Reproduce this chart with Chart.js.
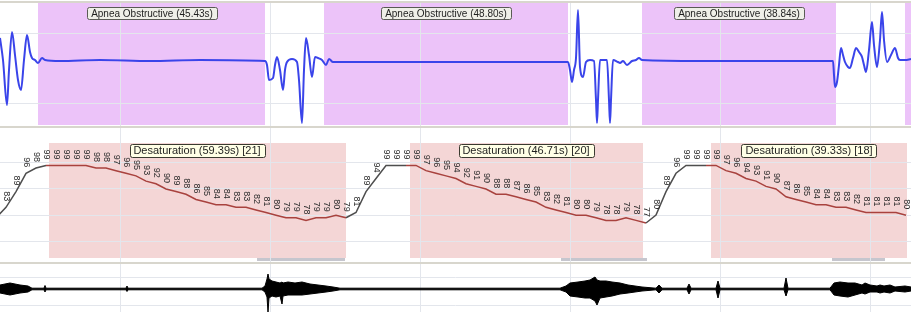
<!DOCTYPE html>
<html>
<head>
<meta charset="utf-8">
<script src="https://cdn.jsdelivr.net/npm/chart.js@4.4.1/dist/chart.umd.min.js"></script>
<style>
  html, body { margin: 0; padding: 0; background: #fff; }
  #wrap { position: relative; width: 911px; height: 312px; overflow: hidden; background: #fff; }
  #wrap canvas { position: absolute; left: 0; }
  .sep { position: absolute; left: 0; width: 911px; height: 2px; background: #d8d6cd; }
</style>
</head>
<body>
<div id="wrap">
  <div class="sep" style="top:1px"></div>
  <canvas id="flowChart" width="911" height="123" style="top:3px"></canvas>
  <div class="sep" style="top:126px"></div>
  <canvas id="spo2Chart" width="911" height="134" style="top:128px"></canvas>
  <div class="sep" style="top:262px"></div>
  <canvas id="snoreChart" width="911" height="48" style="top:264px"></canvas>
</div>
<script>
// time axis in seconds, vertical grid every 30 s
const gridTimes = [24, 54, 84, 114, 144, 174];
const timeMax = 182.2;

// airflow channel
const flowT = [0, 0.6, 1.4, 1.8, 2.4, 3, 3.6, 4.2, 4.8, 5.4, 6, 6.4, 7, 7.6, 8.4, 9, 12, 20, 30, 40, 53,
  53.4, 53.8, 54.6, 55, 55.4, 56, 56.6, 57, 57.4, 58.4, 59.4, 59.8, 60.4, 60.8, 61.2, 61.8, 62.4, 63, 63.6,
  64.4, 65.2, 65.8, 66.6, 80, 100, 113.6,
  114, 114.4, 114.8, 115.2, 115.6, 116, 116.6, 117.2, 118, 118.8, 119.2, 119.4, 119.6, 120, 121.4, 121.8,
  122, 122.2, 122.6, 123.6, 124, 124.6, 125.4, 126.4, 127.2, 127.8, 128.4, 140, 156, 166.6,
  166.8, 167, 167.4, 167.8, 168.2, 168.6, 169, 169.6, 170, 170.6, 171.2, 171.8, 172.4, 172.8, 173.2, 173.8,
  174.4, 174.8, 175.4, 176, 176.4, 176.8, 177.4, 178.2, 179, 179.6, 180, 181, 182.2];
const flowV = [23, 1, -44, -9, 29, 6, -19, -29, 1, 26, 9, 3, 1, -2, 3, 1, 0, 1, 0, 1, 0,
  -4, -19, -17, -4, 4, -9, -29, -9, -1, 2, -1, -19, -62, -9, 23, 6, -16, 4, 3,
  1, -4, 2, -1, -1, -1, -1,
  -9, -21, -9, 3, 51, -6, -16, -1, 1, 0, -39, -62, -39, 1, 1, -39,
  -62, -39, 1, -1, -2, 0, -4, 0, 1, 3, 1, 0, 0, 0,
  -14, -26, -21, -4, 13, 6, -1, -6, -7, 3, 13, 9, 4, -4, -11, 11,
  39, 16, -6, 21, 49, 21, -1, 6, 13, 3, 1, 1, 2];

// SpO2 channel, one reading every 2 s
const spo2Start = -0.8;
const spo2Step = 2;
const spo2Vals = [79, 83, 89, 96, 98, 99, 99, 99, 99, 99, 98,
  98, 97, 96, 95, 93, 92, 90, 89, 88, 86,
  85, 84, 84, 83, 83, 82, 81, 80, 79, 79,
  78, 79, 79, 80, 79, 81, 89, 94, 99, 99,
  99, 99, 97, 96, 95, 94, 92, 91, 90, 88,
  88, 87, 86, 85, 83, 82, 81, 80, 80, 79,
  78, 78, 79, 78, 77, 80, 89, 96, 99, 99,
  99, 99, 97, 96, 94, 93, 91, 90, 87, 86,
  85, 84, 84, 83, 83, 82, 81, 81, 81, 81,
  80];

// scored events
const apneaStart = [7.6, 64.8, 128.4, 181];
const apneaDur = [45.43, 48.80, 38.84, null];
const desatStart = [9.8, 81.9, 142.1];
const desatDur = [59.39, 46.71, 39.33];
const desatDrop = [21, 20, 18];
const markStart = [51.4, 112.2, 166.4];
const markEnd = [69, 129.4, 177];

// snore channel envelope (upper / lower amplitude)
const snoreT = [0, 1, 2, 3, 4, 5.6, 6.4, 8.8, 9, 9.2, 20, 25.2, 25.4, 25.6, 40, 52.4, 53, 53.4, 53.6, 53.8,
  54.4, 55.2, 56, 56.4, 56.6, 57.6, 59, 60.4, 62, 63.6, 65.2, 66.6, 68, 90, 112, 113.2, 114, 115.6, 117,
  118, 119, 119.4, 120, 121.2, 122.4, 124, 125.6, 127, 128.4, 131.2, 131.8, 132.4, 137.4, 137.8, 138.2,
  143.2, 143.6, 144, 156.8, 157.2, 157.6, 166, 166.8, 168, 169.6, 171, 172.4, 173, 174, 175.4, 176,
  176.8, 178, 179, 181, 182.2];
const snoreUp = [4, 5, 6, 5, 4, 3, 0.8, 0.8, 3.5, 0.8, 0.8, 0.8, 3, 0.8, 0.8, 0.8, 3, 10, 15, 10,
  8, 7, 6, 7, 6, 7, 6, 7, 5, 4, 3, 2, 0.8, 0.8, 0.8, 3, 6, 7, 8,
  9, 12, 9, 8, 8, 7, 6, 4, 3, 2, 0.8, 4, 0.8, 0.8, 5, 0.8,
  0.8, 8, 0.8, 0.8, 11, 0.8, 0.8, 6, 7, 6, 6, 4, 6, 4, 3, 4,
  3, 4, 2, 3, 2];
const snoreDown = [4, 5, 6, 5, 4, 3, 0.8, 0.8, 3, 0.8, 0.8, 0.8, 2.5, 0.8, 0.8, 0.8, 3, 8, 23, 9,
  7, 8, 7, 15, 7, 6, 6, 6, 5, 4, 3, 2, 0.8, 0.8, 0.8, 3, 7, 8, 9,
  9, 12, 16, 9, 8, 7, 5, 4, 3, 2, 0.8, 4, 0.8, 0.8, 5, 0.8,
  0.8, 9, 0.8, 0.8, 7, 0.8, 0.8, 6, 7, 8, 6, 4, 5, 3, 3, 4,
  3, 4, 2, 3, 2];

const spo2Times = spo2Vals.map((v, i) => spo2Start + i * spo2Step);

Chart.defaults.animation = false;
Chart.defaults.font.family = '"Liberation Sans", Arial, sans-serif';

const gridColor = '#e3e6ec';

function timeAxis() {
  return {
    type: 'linear', min: 0, max: timeMax,
    ticks: { display: false },
    grid: { color: gridColor, drawTicks: false },
    border: { display: false },
    afterBuildTicks: s => { s.ticks = gridTimes.map(v => ({ value: v })); }
  };
}

function valueAxis(min, max, lines) {
  return {
    min: min, max: max,
    ticks: { display: false },
    grid: { color: gridColor, drawTicks: false },
    border: { display: false },
    afterBuildTicks: s => { s.ticks = lines.map(v => ({ value: v })); }
  };
}

function drawTag(ctx, text, cx, cy, font, h, fill, stroke) {
  ctx.save();
  ctx.font = font;
  const w = Math.round(ctx.measureText(text).width) + 8;
  const x = Math.round(cx - w / 2) + 0.5, y = Math.round(cy - h / 2) + 0.5;
  ctx.beginPath();
  ctx.roundRect(x, y, w, h, 2);
  ctx.fillStyle = fill;
  ctx.fill();
  ctx.strokeStyle = stroke;
  ctx.lineWidth = 1;
  ctx.stroke();
  ctx.fillStyle = '#1e1e1e';
  ctx.textAlign = 'center';
  ctx.textBaseline = 'middle';
  ctx.fillText(text, Math.round(cx), Math.round(cy) + 1);
  ctx.restore();
}

// shaded event bands go under the grid
function bandPlugin(id, starts, ends, color, top, bottom) {
  return {
    id: id,
    beforeDraw(chart) {
      const { ctx, chartArea, scales: { x } } = chart;
      ctx.save();
      ctx.fillStyle = color;
      starts.forEach((s, i) => {
        const e = ends[i] == null ? timeMax : ends[i];
        const x0 = Math.round(x.getPixelForValue(s));
        const x1 = Math.round(x.getPixelForValue(e));
        ctx.fillRect(x0, chartArea.top + top, x1 - x0, chartArea.bottom - bottom - chartArea.top - top);
      });
      ctx.restore();
    }
  };
}

// ---- airflow ----
const apneaEnd = apneaStart.map((s, i) => apneaDur[i] == null ? null : s + apneaDur[i]);
new Chart(document.getElementById('flowChart'), {
  type: 'line',
  data: {
    datasets: [{
      data: flowT.map((t, i) => ({ x: t, y: flowV[i] })),
      borderColor: '#3a44ea',
      borderWidth: 2,
      pointRadius: 0,
      cubicInterpolationMode: 'monotone'
    }]
  },
  options: {
    responsive: false,
    layout: { padding: 0 },
    plugins: { legend: { display: false }, tooltip: { enabled: false } },
    scales: { x: timeAxis(), y: valueAxis(-65, 58, [28, -42]) }
  },
  plugins: [
    bandPlugin('apneaBands', apneaStart, apneaEnd, '#ecc3f9', 0, 1),
    {
      id: 'apneaTags',
      afterDraw(chart) {
        const x = chart.scales.x;
        apneaStart.forEach((s, i) => {
          if (apneaDur[i] == null) return;
          const cx = x.getPixelForValue(s + apneaDur[i] / 2);
          drawTag(chart.ctx, 'Apnea Obstructive (' + apneaDur[i].toFixed(2) + 's)', cx, 10,
            '10px "Liberation Sans", Arial, sans-serif', 12, '#efefe8', '#5a5a55');
        });
      }
    }
  ]
});

// ---- SpO2 ----
const desatEnd = desatStart.map((s, i) => s + desatDur[i]);
const inDesat = t => desatStart.some((s, i) => t >= s && t <= desatEnd[i]);
new Chart(document.getElementById('spo2Chart'), {
  type: 'line',
  data: {
    datasets: [{
      data: spo2Times.map((t, i) => ({ x: t, y: spo2Vals[i] })),
      borderColor: '#555555',
      borderWidth: 1.5,
      pointRadius: 0,
      tension: 0,
      segment: {
        borderColor: c => inDesat((c.p0.parsed.x + c.p1.parsed.x) / 2) ? '#a8423e' : '#4e4e4e'
      }
    }]
  },
  options: {
    responsive: false,
    layout: { padding: 0 },
    plugins: { legend: { display: false }, tooltip: { enabled: false } },
    scales: { x: timeAxis(), y: valueAxis(62.1, 113.3, [100, 90, 80, 70]) }
  },
  plugins: [
    bandPlugin('desatBands', desatStart, desatEnd, '#f4d6d6', 15, 4),
    bandPlugin('arousalMarks', markStart, markEnd, '#c6c6ce', 130, 1),
    {
      id: 'spo2Labels',
      afterDatasetsDraw(chart) {
        const ctx = chart.ctx;
        const meta = chart.getDatasetMeta(0);
        ctx.save();
        ctx.font = '9px "Liberation Sans", Arial, sans-serif';
        ctx.fillStyle = '#2a2a2a';
        ctx.textAlign = 'center';
        ctx.textBaseline = 'middle';
        meta.data.forEach((pt, i) => {
          if (spo2Times[i] < 0) return;
          ctx.save();
          ctx.translate(pt.x, pt.y - 11);
          ctx.rotate(Math.PI / 2);
          ctx.fillText(String(spo2Vals[i]), 0, 0);
          ctx.restore();
        });
        ctx.restore();
      },
      afterDraw(chart) {
        const x = chart.scales.x;
        desatStart.forEach((s, i) => {
          const cx = x.getPixelForValue(s + desatDur[i] / 2);
          drawTag(chart.ctx, 'Desaturation (' + desatDur[i].toFixed(2) + 's) [' + desatDrop[i] + ']', cx, 22,
            '11px "Liberation Sans", Arial, sans-serif', 13, '#ffffe6', '#3a3a30');
        });
      }
    }
  ]
});

// ---- snore ----
new Chart(document.getElementById('snoreChart'), {
  type: 'line',
  data: {
    datasets: [
      {
        data: snoreT.map((t, i) => ({ x: t, y: snoreUp[i] })),
        borderColor: '#000',
        borderWidth: 1,
        pointRadius: 0,
        tension: 0,
        fill: false
      },
      {
        data: snoreT.map((t, i) => ({ x: t, y: -snoreDown[i] })),
        borderColor: '#000',
        backgroundColor: '#000',
        borderWidth: 1,
        pointRadius: 0,
        tension: 0,
        fill: '-1'
      }
    ]
  },
  options: {
    responsive: false,
    layout: { padding: 0 },
    plugins: { legend: { display: false }, tooltip: { enabled: false } },
    scales: { x: timeAxis(), y: valueAxis(-23, 25, [12, -16]) }
  }
});
</script>
</body>
</html>
